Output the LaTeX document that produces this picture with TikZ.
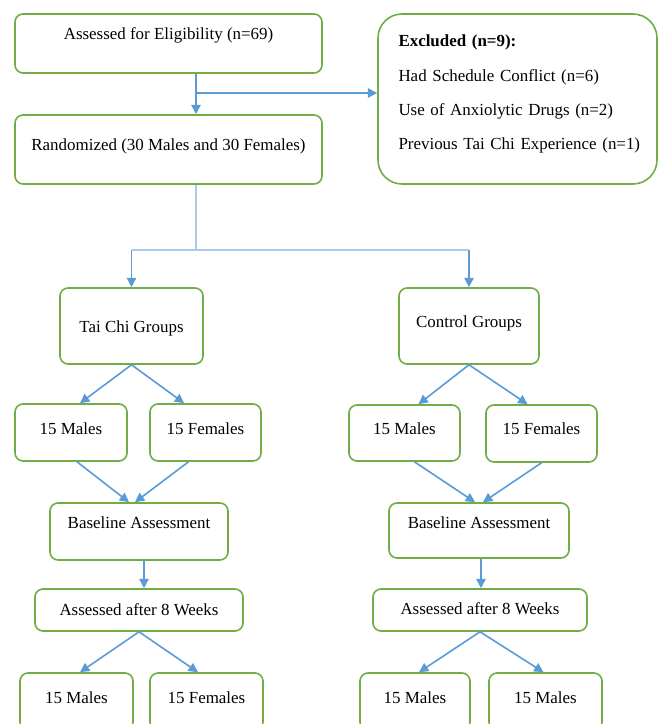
\documentclass[tikz,border=0pt]{standalone}
\usepackage{fontspec}
\setmainfont{Liberation Serif}
\usetikzlibrary{positioning, calc, arrows.meta}
\definecolor{boxgreen}{RGB}{112,173,71}
\definecolor{arrowblue}{RGB}{91,155,213}
\definecolor{paleblue}{RGB}{170,204,236}

\begin{document}
\begin{tikzpicture}[x=0.75pt, y=-0.75pt,
    font=\fontsize{12.7}{15}\selectfont,
    flowbox/.style={draw=boxgreen, line width=1.2pt, rounded corners=6pt, inner sep=0pt, text height=9pt, align=center},
    flowarrow/.style={draw=arrowblue, line width=1.2pt, -{Triangle[length=7pt,width=7pt]}},
    paleline/.style={draw=paleblue, line width=0.8pt}]
	\useasboundingbox (0,0) rectangle (659,724);
	\clip (0,0) rectangle (659,724);

	% top part
	\node (elig) [flowbox, minimum width=230.25pt, minimum height=44.25pt, text depth=14.4pt] at (168.5,43.5) {Assessed for Eligibility (n=69)};
	\node (rand) [flowbox, minimum width=230.25pt, minimum height=51.75pt, text depth=7.65pt] at (168.5,149.5) {Randomized (30 Males and 30 Females)};
	\node (excl) [flowbox, rounded corners=18pt, minimum width=209.25pt, minimum height=127.5pt, text width=178.5pt, align=left, font=\fontsize{12.7}{25.7}\selectfont, text depth=87.1pt] at (517.5,99) {\textbf{Excluded (n=9):}\\Had Schedule Conflict (n=6)\\Use of Anxiolytic Drugs (n=2)\\\mbox{Previous Tai Chi Experience (n=1)}};

	\coordinate (split) at (196,93);
	\draw [flowarrow] (elig.south -| split) -- (rand.north -| split);
	\draw [flowarrow] (split) -- (split -| excl.west);

	% groups
	\node (taichi) [flowbox, minimum width=107.25pt, minimum height=57pt, text depth=0pt] at (131.5,326) {Tai Chi Groups};
	\node (control) [flowbox, minimum width=105pt, minimum height=57pt, text depth=6.9pt] at (469,326) {Control Groups};

	\coordinate (fork) at (196,250);
	\draw [paleline] (rand.south -| fork) -- (fork);
	\draw [paleline] (fork -| taichi.north) -- (fork -| control.north);
	\draw [flowarrow] (fork -| taichi.north) -- (taichi.north);
	\draw [flowarrow] (fork -| control.north) -- (control.north);

	% first split by sex
	\node (lm1) [flowbox, minimum width=84pt, minimum height=42.75pt, text depth=6.15pt] at (71,432.5) {15 Males};
	\node (lf1) [flowbox, minimum width=83.25pt, minimum height=42.75pt, text depth=6.15pt] at (205.5,432.5) {15 Females};
	\node (rm1) [flowbox, minimum width=83.25pt, minimum height=42pt, text depth=6.9pt] at (404.5,433) {15 Males};
	\node (rf1) [flowbox, minimum width=83.25pt, minimum height=42.75pt, text depth=7.65pt] at (541.5,433.5) {15 Females};

	\draw [flowarrow] (taichi.south) -- ([xshift=6.75pt]lm1.north);
	\draw [flowarrow] (taichi.south) -- ([xshift=-16pt]lf1.north);
	\draw [flowarrow] (control.south) -- ([xshift=10.5pt]rm1.north);
	\draw [flowarrow] (control.south) -- ([xshift=-10.5pt]rf1.north);

	% baseline
	\node (basel) [flowbox, minimum width=133.5pt, minimum height=42.75pt, text depth=13.65pt] at (139,531.5) {Baseline Assessment};
	\node (baser) [flowbox, minimum width=135pt, minimum height=41.25pt, text depth=12.15pt] at (479,530.5) {Baseline Assessment};

	\draw [flowarrow] ([xshift=4.5pt]lm1.south) -- ([xshift=-7.5pt]basel.north);
	\draw [flowarrow] ([xshift=-12.75pt]lf1.south) -- ([xshift=-3pt]basel.north);
	\draw [flowarrow] ([xshift=7.5pt]rm1.south) -- ([xshift=-3pt]baser.north);
	\draw [flowarrow] (rf1.south) -- ([xshift=3pt]baser.north);

	% after 8 weeks
	\node (afterl) [flowbox, minimum width=156pt, minimum height=31.5pt, text depth=0.9pt] at (139,610) {Assessed after 8 Weeks};
	\node (afterr) [flowbox, minimum width=160.5pt, minimum height=31.5pt, text depth=2.4pt] at (480,610) {Assessed after 8 Weeks};

	\draw [flowarrow] ([xshift=3.75pt]basel.south) -- ([xshift=3.75pt]afterl.north);
	\draw [flowarrow] ([xshift=1.5pt]baser.south) -- ([xshift=0.75pt]afterr.north);

	% final split
	\node (lm2) [flowbox, minimum width=84.75pt, minimum height=42.75pt, text depth=6.15pt] at (76.5,701.5) {15 Males};
	\node (lf2) [flowbox, minimum width=84.75pt, minimum height=42.75pt, text depth=6.15pt] at (206.5,701.5) {15 Females};
	\node (rm2) [flowbox, minimum width=82.5pt, minimum height=42.75pt, text depth=6.15pt] at (415,701.5) {15 Males};
	\node (rm3) [flowbox, minimum width=84.75pt, minimum height=42.75pt, text depth=6.15pt] at (545.5,701.5) {15 Males};

	\draw [flowarrow] (afterl.south) -- ([xshift=2.6pt]lm2.north);
	\draw [flowarrow] (afterl.south) -- ([xshift=-6.4pt]lf2.north);
	\draw [flowarrow] (afterr.south) -- ([xshift=3pt]rm2.north);
	\draw [flowarrow] (afterr.south) -- ([xshift=-1.5pt]rm3.north);
\end{tikzpicture}
\end{document}
